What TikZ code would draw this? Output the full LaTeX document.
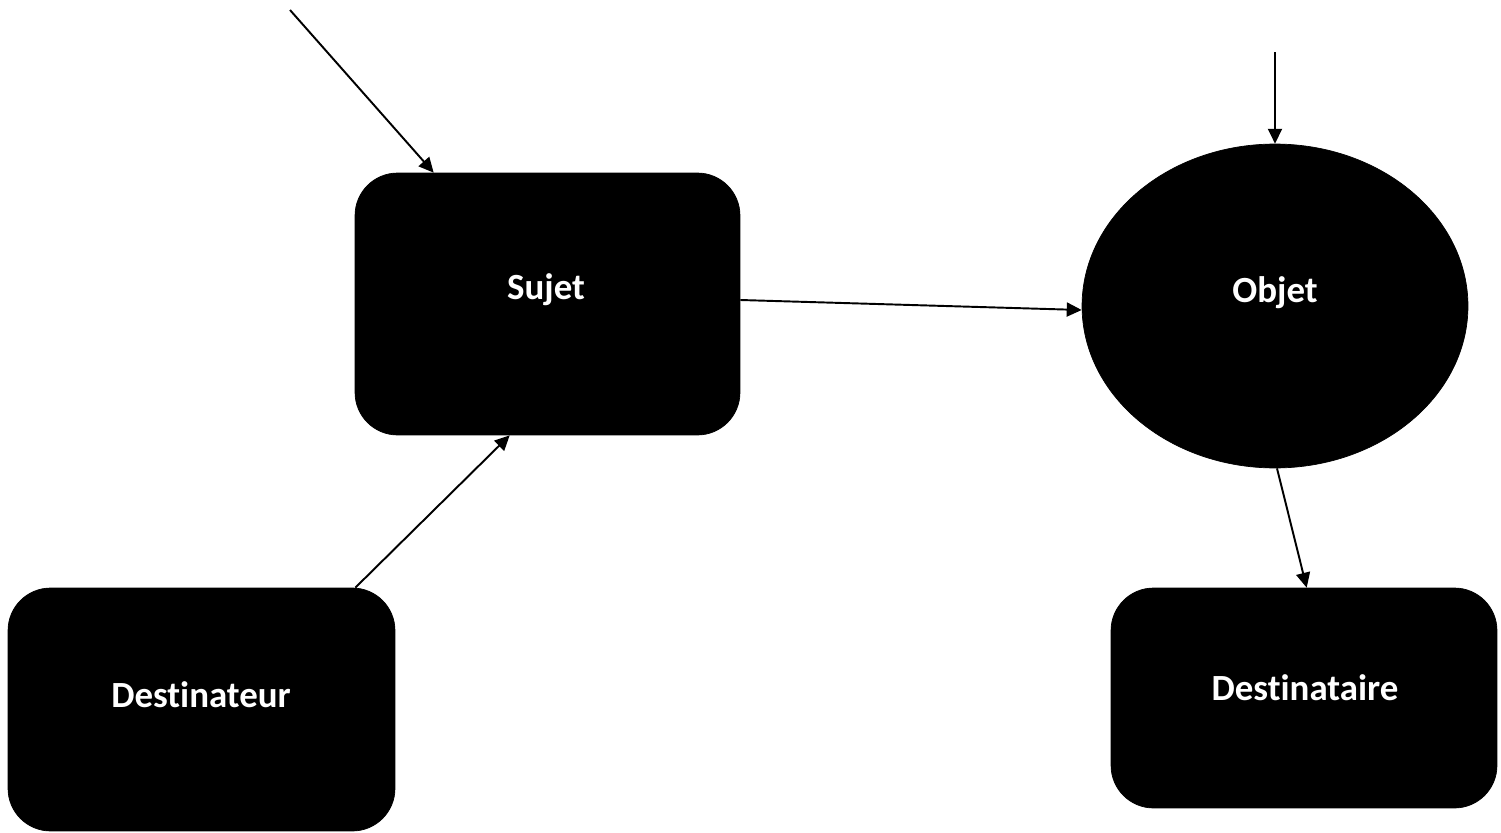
\documentclass[tikz,border=0pt]{standalone}
\usepackage{fontspec}
\setmainfont[Ligatures={NoCommon}]{Carlito}
\usetikzlibrary{arrows.meta,shapes.geometric,calc}
\begin{document}
\begin{tikzpicture}[x=0.02cm,y=-0.02cm,
  boxstyle/.style={draw=black,fill=black,rectangle,rounded corners=0.85cm,inner sep=0pt},
  ellstyle/.style={draw=black,fill=black,ellipse,inner sep=0pt,minimum width=7.72cm,minimum height=6.48cm},
  txt/.style={text=white,font=\fontsize{21}{24}\selectfont\bfseries},
  arr/.style={draw=black,line width=1.1pt,-{Triangle[length=8.5pt,width=8pt]}}]
\useasboundingbox (0,0) rectangle (1501,832);
% boxes
\node[boxstyle,minimum width=7.7cm,minimum height=5.24cm] (sujet) at (547.5,304) {};
\node[txt] (tsujet) at (546,290) {Sujet};
\node[ellstyle] (objet) at (1275,306) {};
\node[txt] (tobjet) at (1275,293) {Objet};
\node[boxstyle,minimum width=7.74cm,minimum height=4.86cm] (dest) at (201.5,709.5) {};
\node[txt] (tdest) at (201,695) {Destinateur};
\node[boxstyle,minimum width=7.72cm,minimum height=4.4cm] (destaire) at (1304,698) {};
\node[txt] (tdestaire) at (1305,688) {Destinataire};
% free ends
\coordinate (s1) at (290,10);
\coordinate (s2) at (1275,52);
% connectors
\draw[arr] (s1) -- ($(sujet.north west)+(79,0)$);
\draw[arr] ($(dest.north east)+(-40,0)$) -- ($(sujet.south west)+(155,0)$);
\draw[arr] ($(sujet.east)+(0,-4)$) -- ($(objet.west)+(0,4)$);
\draw[arr] (s2) -- (objet.north);
\draw[arr] ($(objet.south)+(2,0)$) -- ($(destaire.north west)+(196,0)$);
\end{tikzpicture}
\end{document}
